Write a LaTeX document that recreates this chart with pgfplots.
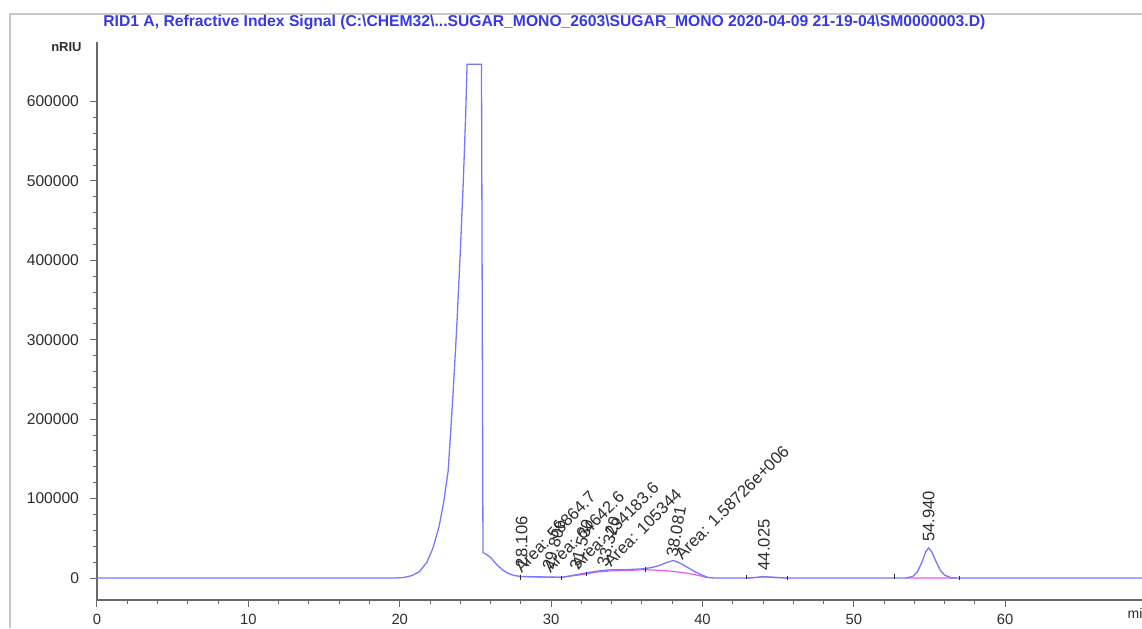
\documentclass[border=0pt]{standalone}
\usepackage{fontspec}
\setmainfont{Liberation Sans}
\usepackage{pgfplots}
\pgfplotsset{compat=1.18}
\definecolor{trace}{RGB}{120,120,255}
\definecolor{basel}{RGB}{235,90,235}
\definecolor{titleblue}{RGB}{55,55,230}
\definecolor{axgray}{RGB}{105,105,105}
\definecolor{lblgray}{RGB}{45,45,45}
\definecolor{framegray}{RGB}{200,200,200}
\tikzset{ann/.style={font=\fontsize{8.3}{9}\selectfont, text=lblgray, inner sep=0.5pt}}

\begin{document}
\begin{tikzpicture}
\begin{axis}[
    scale only axis,
    width=524.5pt, height=279pt,
    xmin=0, xmax=69.3,
    ymin=-27700, ymax=675000,
    axis lines*=left,
    axis line style={axgray, line width=0.6pt},
    xtick={0,10,...,60}, minor x tick num=4,
    ytick={0,100000,...,600000}, minor y tick num=4,
    scaled y ticks=false,
    yticklabels={0,100000,200000,300000,400000,500000,600000},
    /pgf/number format/assume math mode=true,
    tick align=outside,
    major tick length=3.5pt, minor tick length=2pt,
    tick style={axgray, line width=0.5pt},
    xticklabel style={font=\fontsize{7.4}{8}\selectfont, text=lblgray},
    yticklabel style={font=\fontsize{7.8}{8}\selectfont, text=lblgray, anchor=east, xshift=-2pt},
    clip=false,
    unbounded coords=jump,
]
% integration baseline (pink)
\addplot[basel, line width=0.6pt] coordinates {
  (27.8,2000) (28.5,1500) (29.5,1200) (30.7,800) (31.5,3000) (32.3,5000)
  (33.0,7500) (34.0,9000) (35.0,9500) (36.2,10500) (37.0,9800) (37.6,9200)
  (38.0,8500) (39.0,6000) (39.8,3000) (40.3,500)
  (40.3,nan)
  (42.9,0) (43.5,600) (44.0,1300) (44.6,900) (45.6,0)
  (45.6,nan)
  (53.4,0) (56.8,0)
};
% signal
\addplot[trace, line width=0.65pt] coordinates {
  (0,0) (19.8,0) (20.3,800) (20.8,3000) (21.3,8000) (21.8,20000) (22.2,38000)
  (22.6,65000) (22.9,95000) (23.2,135000) (23.5,225000) (23.75,310000)
  (24.0,410000) (24.2,500000) (24.35,580000) (24.45,647000) (25.4,647000)
  (25.5,32000) (25.7,30000) (26.0,26000) (26.4,17000) (26.8,10000)
  (27.2,5500) (27.6,3000) (28.0,2000) (29.0,1500) (30.0,1200) (30.7,800)
  (31.2,2500) (31.8,4500) (32.5,7000) (33.2,9000) (34.0,10500) (35.0,10500)
  (36.0,11500) (36.6,13000) (37.2,16000) (37.7,20000) (38.08,22000)
  (38.5,19000) (39.0,13500) (39.5,8000) (40.0,3500) (40.4,500) (40.8,0)
  (43.0,0) (43.6,800) (44.0,1800) (44.5,1200) (45.0,500) (45.5,0)
  (53.4,0) (53.9,2000) (54.2,8000) (54.5,20000) (54.75,33000) (54.94,38000)
  (55.15,33000) (55.4,22000) (55.7,10000) (56.0,3500) (56.4,500) (56.8,0)
  (69.3,0)
};
% peak start/end marks
\addplot[lblgray, line width=0.4pt] coordinates {
  (28.0,-2500) (28.0,3500) (28.0,nan)
  (30.7,-3000) (30.7,3000) (30.7,nan)
  (32.3,2000) (32.3,8000) (32.3,nan)
  (36.2,7500) (36.2,13500) (36.2,nan)
  (42.9,-1000) (42.9,4000) (42.9,nan)
  (45.6,-3000) (45.6,2000) (45.6,nan)
  (52.7,-1000) (52.7,4500) (52.7,nan)
  (57.0,-3000) (57.0,2000)
};
\node[ann, rotate=90, anchor=west] at (axis cs:28.05,12000) {28.106};
\node[ann, rotate=75, anchor=west] at (axis cs:29.75,9000) {29.806};
\node[ann, rotate=75, anchor=west] at (axis cs:31.55,10000) {31.530};
\node[ann, rotate=75, anchor=west] at (axis cs:33.35,13000) {33.320};
\node[ann, rotate=45, anchor=base west] at (axis cs:28.0,5000) {Area: 58864.7};
\node[ann, rotate=45, anchor=base west] at (axis cs:29.9,5000) {Area: 64642.6};
\node[ann, rotate=45, anchor=base west] at (axis cs:31.75,8000) {Area: 134183.6};
\node[ann, rotate=45, anchor=base west] at (axis cs:33.9,12000) {Area: 105344};
\node[ann, rotate=80, anchor=west] at (axis cs:37.95,25000) {38.081};
\node[ann, rotate=45, anchor=base west] at (axis cs:38.6,21000) {Area: 1.58726e+006};
\node[ann, rotate=90, anchor=west] at (axis cs:44.05,8000) {44.025};
\node[ann, rotate=90, anchor=west] at (axis cs:54.94,44000) {54.940};
\node[ann, anchor=west, font=\fontsize{7}{8}\selectfont] at (axis cs:68.0,-45000) {min};
\end{axis}
% window frame, title and unit label
\draw[framegray, line width=0.8pt] (-43.5pt,-14pt) -- (-43.5pt,293pt) -- (522.5pt,293pt);
\node[anchor=west, inner sep=0pt, text=titleblue] at (3pt,289pt)
  {\resizebox{441pt}{!}{\bfseries RID1 A, Refractive Index Signal (C:\textbackslash CHEM32\textbackslash...SUGAR\_MONO\_2603\textbackslash SUGAR\_MONO 2020-04-09 21-19-04\textbackslash SM0000003.D)}};
\node[anchor=east, inner sep=0pt, text=lblgray, font=\fontsize{6.5}{8}\selectfont\bfseries] at (-7.5pt,276.5pt) {nRIU};
\pgfresetboundingbox
\path (-48.5pt,-14pt) rectangle (522.5pt,300pt);
\end{tikzpicture}
\end{document}
